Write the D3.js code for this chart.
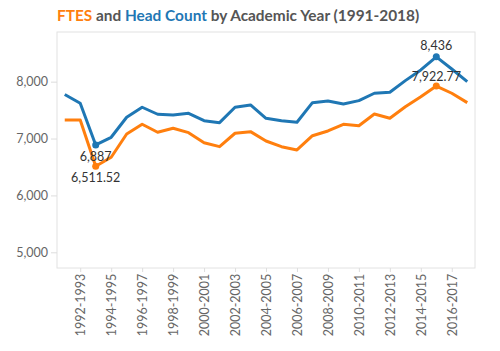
<!DOCTYPE html>
<html>
<head>
  <script src="https://d3js.org/d3.v7.min.js"></script>
  <style>
    html, body {
      margin: 0px;
      padding: 0px;
      background: #fff;
      font-family: Lato, "Open Sans", sans-serif;
    }
    .axis text {
      font-size: 12.5px;
      fill: #666;
      font-family: Lato, sans-serif;
    }
    .axis path, .axis line {
      stroke: #ddd;
    }
    .mark-label {
      font-size: 12.5px;
      fill: #333;
    }
  </style>
</head>
<body>
  <div id="chart"></div>
  <script>

      // academic years, 1991-1992 through 2017-2018
      const years = d3.range(1991, 2018).map(function(y) { return y + "-" + (y + 1); });

      // FTES (orange)
      const ftes = [7327, 7327, 6511.52, 6671, 7080, 7251, 7110, 7181, 7103, 6927,
                    6857, 7093, 7121, 6957, 6857, 6799, 7050, 7133, 7251, 7226,
                    7432, 7356, 7560, 7736, 7922.77, 7796, 7631];

      // Head Count (blue)
      const headCount = [7775, 7620, 6887, 7022, 7374, 7550, 7427, 7414, 7444, 7314,
                         7279, 7550, 7590, 7356, 7314, 7286, 7631, 7661, 7608, 7666,
                         7796, 7814, 8018, 8206, 8436, 8223, 8000];

      const yTicks = [5000, 6000, 7000, 8000];

      // annotated points (index into years)
      const labelled = [2, 24];

      const width = 500, height = 351;
      const margin = {top: 32, left: 57, right: 25, bottom: 83};

      const svg = d3.select("#chart")
        .append("svg")
        .attr("width", width)
        .attr("height", height);

      const xScale = d3.scalePoint()
        .domain(years)
        .range([margin.left, width - margin.right])
        .padding(0.5);

      const yScale = d3.scaleLinear()
        .domain([4724, 8873])
        .range([height - margin.bottom, margin.top]);

      // frame
      svg.append("rect")
        .attr("x", margin.left)
        .attr("y", margin.top)
        .attr("width", width - margin.right - margin.left)
        .attr("height", height - margin.bottom - margin.top)
        .attr("fill", "none")
        .attr("stroke", "#e2e2e2");

      // title
      const title = svg.append("text")
        .attr("x", margin.left)
        .attr("y", 21)
        .attr("font-size", "15.4px")
        .attr("font-weight", "bold")
        .attr("fill", "#555");
      title.append("tspan").attr("fill", "#ff7f0e").text("FTES");
      title.append("tspan").text(" and ");
      title.append("tspan").attr("fill", "#1f77b4").text("Head Count");
      title.append("tspan").text(" by Academic Year (1991-2018)");

      // axes
      svg.append("g")
        .attr("class", "axis")
        .attr("transform", `translate(${margin.left},0)`)
        .call(d3.axisLeft(yScale).tickValues(yTicks).tickSize(6).tickPadding(3).tickFormat(d3.format(",")))
        .call(g => g.select(".domain").remove());

      svg.append("g")
        .attr("class", "axis")
        .attr("transform", `translate(0,${height - margin.bottom})`)
        .call(d3.axisBottom(xScale)
          .tickValues(years.filter(function(d, i) { return i % 2 === 1; }))
          .tickSize(4).tickPadding(4))
        .call(g => g.select(".domain").remove())
        .selectAll("text")
          .attr("transform", "rotate(-90)")
          .attr("text-anchor", "end")
          .attr("dx", "-0.45em")
          .attr("dy", "0.36em")
          .attr("x", 0)
          .attr("y", 0);

      // lines
      const line = d3.line()
        .x(function(d, i) { return xScale(years[i]); })
        .y(function(d) { return yScale(d); });

      const series = [
        {name: "Head Count", values: headCount, color: "#1f77b4"},
        {name: "FTES", values: ftes, color: "#ff7f0e"}
      ];

      svg.selectAll(".series")
        .data(series)
        .enter()
        .append("path")
          .attr("class", "series")
          .attr("d", function(d) { return line(d.values); })
          .attr("fill", "none")
          .attr("stroke", function(d) { return d.color; })
          .attr("stroke-width", 3)
          .attr("stroke-linejoin", "round");

      // markers + labels
      series.forEach(function(s) {
        labelled.forEach(function(i) {
          svg.append("circle")
            .attr("cx", xScale(years[i]))
            .attr("cy", yScale(s.values[i]))
            .attr("r", 3.5)
            .attr("fill", s.color);
        });
      });

      const fmt = function(v) { return Number.isInteger(v) ? d3.format(",")(v) : d3.format(",.2f")(v); };

      // labels: Head Count below at dip, above at peak; FTES below both
      const labelSpots = [
        {v: headCount[2], i: 2, dy: 16.5},
        {v: ftes[2], i: 2, dy: 16},
        {v: headCount[24], i: 24, dy: -7},
        {v: ftes[24], i: 24, dy: -5}
      ];

      svg.selectAll(".mark-label")
        .data(labelSpots)
        .enter()
        .append("text")
          .attr("class", "mark-label")
          .attr("x", function(d) { return xScale(years[d.i]); })
          .attr("y", function(d) { return yScale(d.v) + d.dy; })
          .attr("text-anchor", "middle")
          .text(function(d) { return fmt(d.v); });

  </script>
</body>
</html>
